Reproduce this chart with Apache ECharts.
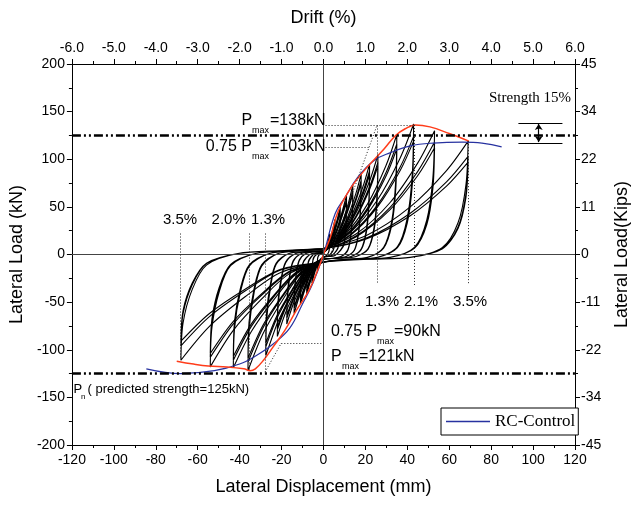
<!DOCTYPE html>
<html>
<head>
<meta charset="utf-8">
<script src="https://cdn.jsdelivr.net/npm/echarts@6/dist/echarts.min.js"></script>
<style>
html, body { margin: 0; padding: 0; background: #fff; }
#chart { width: 639px; height: 505px; }
</style>
</head>
<body>
<div id="chart"></div>
<script>
/* right axis labels (kips) */
var kipsLabels = ['-45', '-34', '-22', '-11', '0', '11', '22', '34', '45'];

/* hysteresis record, one array per drift level (mm, kN) */
var loop03 = [[0,0],[1.5,7.7],[3,22],[2.7,4.4],[1.5,-1],[0,-3],[-1.5,-6],[-3,-17],[-2.7,-3.4],[-1.5,1],[0,2],
    [1.5,7],[3,20],[2.7,4],[1.5,-1],[0,-3],[-1.5,-5.3],[-3,-15],[-2.7,-3],[-1.5,1],[0,2],
    [1.5,6.7],[3,19],[2.7,3.8],[1.5,-1],[0,-3],[-1.5,-4.9],[-3,-14],[-2.7,-2.8],[-1.5,1],[0,2]];
var loop06 = [[0,2],[2.8,13],[5.5,37],[5,7.4],[2.8,-1],[0,-3],[-2.8,-10.5],[-5.5,-30],[-5,-6],[-2.8,1],[0,2],
    [2.8,11.9],[5.5,34],[5,6.8],[2.8,-1],[0,-3],[-2.8,-9.5],[-5.5,-27],[-5,-5.4],[-2.8,1],[0,2],
    [2.8,11.2],[5.5,32],[5,6.4],[2.8,-1],[0,-3],[-2.8,-9.1],[-5.5,-26],[-5,-5.2],[-2.8,1],[0,2]];
var loop08 = [[0,2],[4,17.5],[8,50],[7.2,10],[4,-1],[0,-3],[-4,-14.7],[-8,-42],[-7.2,-8.4],[-4,1],[0,2],
    [4,16.1],[8,46],[7.2,9.2],[4,-1],[0,-3],[-4,-13.3],[-8,-38],[-7.2,-7.6],[-4,1],[0,2],
    [4,15.4],[8,44],[7.2,8.8],[4,-1],[0,-3],[-4,-12.6],[-8,-36],[-7.2,-7.2],[-4,1],[0,2]];
var loop11 = [[0,2],[5.5,21.7],[11,62],[9.9,12.4],[5.5,-1],[0,-3],[-5.5,-18.2],[-11,-52],[-9.9,-10.4],[-5.5,1],[0,2],
    [5.5,20],[11,57],[9.9,11.4],[5.5,-1],[0,-3],[-5.5,-16.8],[-11,-48],[-9.9,-9.6],[-5.5,1],[0,2],
    [5.5,19.3],[11,55],[9.9,11],[5.5,-1],[0,-3],[-5.5,-16.1],[-11,-46],[-9.9,-9.2],[-5.5,1],[0,2]];
var loop14 = [[0,2],[4.2,12.4],[8.4,30.7],[11.9,54],[14,73],[13.8,45.3],[13,20.4],[11.5,4.4],[8.4,-2],[4.2,-4],[0,-5],
    [-4.2,-10.5],[-7.7,-24.8],[-11.2,-42.2],[-14,-62],[-13.8,-40.3],[-12.9,-20.5],[-11.5,-6.2],[-8.4,1],[-4.2,3],[0,4],
    [4.2,11.4],[8.4,28.1],[11.9,49.6],[14,67],[13.8,41.5],[13,18.8],[11.5,4],[8.4,-2],[4.2,-4],[0,-5],
    [-4.2,-9.7],[-7.7,-22.8],[-11.2,-38.8],[-14,-57],[-13.8,-37],[-12.9,-18.8],[-11.5,-5.7],[-8.4,1],[-4.2,3],[0,4],
    [4.2,10.9],[8.4,26.9],[11.9,47.4],[14,64],[13.8,39.7],[13,17.9],[11.5,3.8],[8.4,-2],[4.2,-4],[0,-5],
    [-4.2,-9.4],[-7.7,-22],[-11.2,-37.4],[-14,-55],[-13.8,-35.8],[-12.9,-18.2],[-11.5,-5.5],[-8.4,1],[-4.2,3],[0,4]];
var loop18 = [[0,4],[5.4,14.5],[10.8,35.7],[15.3,62.9],[18,85],[17.7,52.7],[16.7,23.8],[14.8,5.1],[10.8,-2],[5.4,-4],[0,-5],
    [-5.3,-12.4],[-9.6,-29.2],[-14,-49.6],[-17.5,-73],[-17.2,-47.5],[-16.1,-24.1],[-14.4,-7.3],[-10.5,1],[-5.3,3],[0,4],
    [5.4,13.3],[10.8,32.8],[15.3,57.7],[18,78],[17.7,48.4],[16.7,21.8],[14.8,4.7],[10.8,-2],[5.4,-4],[0,-5],
    [-5.3,-11.4],[-9.6,-26.8],[-14,-45.6],[-17.5,-67],[-17.2,-43.6],[-16.1,-22.1],[-14.4,-6.7],[-10.5,1],[-5.3,3],[0,4],
    [5.4,12.8],[10.8,31.5],[15.3,55.5],[18,75],[17.7,46.5],[16.7,21],[14.8,4.5],[10.8,-2],[5.4,-4],[0,-5],
    [-5.3,-10.9],[-9.6,-25.6],[-14,-43.5],[-17.5,-64],[-17.2,-41.6],[-16.1,-21.1],[-14.4,-6.4],[-10.5,1],[-5.3,3],[0,4]];
var loop22 = [[0,4],[6.6,16.2],[13.2,39.9],[18.7,70.3],[22,95],[21.7,58.9],[20.5,26.6],[18,5.7],[13.2,-2],[6.6,-4],[0,-5],
    [-6.6,-14.6],[-12.1,-34.4],[-17.6,-58.5],[-22,-86],[-21.7,-55.9],[-20.2,-28.4],[-18,-8.6],[-13.2,1],[-6.6,3],[0,4],
    [6.6,15],[13.2,37],[18.7,65.1],[22,88],[21.7,54.6],[20.5,24.6],[18,5.3],[13.2,-2],[6.6,-4],[0,-5],
    [-6.6,-13.4],[-12.1,-31.6],[-17.6,-53.7],[-22,-79],[-21.7,-51.4],[-20.2,-26.1],[-18,-7.9],[-13.2,1],[-6.6,3],[0,4],
    [6.6,14.3],[13.2,35.3],[18.7,62.2],[22,84],[21.7,52.1],[20.5,23.5],[18,5],[13.2,-2],[6.6,-4],[0,-5],
    [-6.6,-12.9],[-12.1,-30.4],[-17.6,-51.7],[-22,-76],[-21.7,-49.4],[-20.2,-25.1],[-18,-7.6],[-13.2,1],[-6.6,3],[0,4]];
var loop26 = [[0,4],[7.8,17.9],[15.6,44.1],[22.1,77.7],[26,105],[25.6,65.1],[24.2,29.4],[21.3,6.3],[15.6,-2],[7.8,-4],[0,-5],
    [-8.3,-18],[-15.1,-42.4],[-22,-72.1],[-27.5,-106],[-27.1,-68.9],[-25.3,-35],[-22.6,-10.6],[-16.5,1],[-8.3,3],[0,4],
    [7.8,16.5],[15.6,40.7],[22.1,71.8],[26,97],[25.6,60.1],[24.2,27.2],[21.3,5.8],[15.6,-2],[7.8,-4],[0,-5],
    [-8.3,-16.5],[-15.1,-38.8],[-22,-66],[-27.5,-97],[-27.1,-63.1],[-25.3,-32],[-22.6,-9.7],[-16.5,1],[-8.3,3],[0,4],
    [7.8,15.8],[15.6,39.1],[22.1,68.8],[26,93],[25.6,57.7],[24.2,26],[21.3,5.6],[15.6,-2],[7.8,-4],[0,-5],
    [-8.3,-15.8],[-15.1,-37.2],[-22,-63.2],[-27.5,-93],[-27.1,-60.5],[-25.3,-30.7],[-22.6,-9.3],[-16.5,1],[-8.3,3],[0,4]];
var loop35 = [[0,4],[10.5,21.4],[21,52.9],[29.8,93.2],[35,126],[34.5,78.1],[32.6,35.3],[28.7,7.6],[21,-3],[10.5,-5],[0,-8],
    [-10.8,-20.7],[-19.8,-48.8],[-28.8,-83],[-36,-122],[-35.5,-79.3],[-33.1,-40.3],[-29.5,-12.2],[-21.6,1],[-10.8,4],[0,6],
    [10.5,19.7],[21,48.7],[29.8,85.8],[35,116],[34.5,71.9],[32.6,32.5],[28.7,7],[21,-3],[10.5,-5],[0,-8],
    [-10.8,-19.2],[-19.8,-45.2],[-28.8,-76.8],[-36,-113],[-35.5,-73.5],[-33.1,-37.3],[-29.5,-11.3],[-21.6,1],[-10.8,4],[0,6],
    [10.5,18.9],[21,46.6],[29.8,82.1],[35,111],[34.5,68.8],[32.6,31.1],[28.7,6.7],[21,-3],[10.5,-5],[0,-8],
    [-10.8,-18.5],[-19.8,-43.6],[-28.8,-74.1],[-36,-109],[-35.5,-70.9],[-33.1,-36],[-29.5,-10.9],[-21.6,1],[-10.8,4],[0,6]];
var loop43 = [[0,6],[12.9,23.3],[25.8,57.5],[36.6,101.4],[43,137],[42.4,84.9],[40,38.4],[35.3,8.2],[25.8,-3],[12.9,-5],[0,-8],
    [-12.9,-20.2],[-23.7,-47.6],[-34.4,-80.9],[-43,-119],[-42.4,-77.4],[-39.6,-39.3],[-35.3,-11.9],[-25.8,1],[-12.9,4],[0,6],
    [12.9,21.1],[25.8,52.1],[36.6,91.8],[43,124],[42.4,76.9],[40,34.7],[35.3,7.4],[25.8,-3],[12.9,-5],[0,-8],
    [-12.9,-18.9],[-23.7,-44.4],[-34.4,-75.5],[-43,-111],[-42.4,-72.2],[-39.6,-36.6],[-35.3,-11.1],[-25.8,1],[-12.9,4],[0,6],
    [12.9,20.2],[25.8,50],[36.6,88.1],[43,119],[42.4,73.8],[40,33.3],[35.3,7.1],[25.8,-3],[12.9,-5],[0,-8],
    [-12.9,-18.2],[-23.7,-42.8],[-34.4,-72.8],[-43,-107],[-42.4,-69.6],[-39.6,-35.3],[-35.3,-10.7],[-25.8,1],[-12.9,4],[0,6]];
var loop53 = [[0,6],[15.9,22.1],[31.8,54.6],[45,96.2],[53,130],[52.2,80.6],[49.3,36.4],[43.5,7.8],[31.8,-3],[15.9,-5],[0,-8],
    [-16.2,-20.1],[-29.7,-47.2],[-43.2,-80.2],[-54,-118],[-53.2,-76.7],[-49.7,-38.9],[-44.3,-11.8],[-32.4,1],[-16.2,4],[0,6],
    [15.9,20.1],[31.8,49.6],[45,87.3],[53,118],[52.2,73.2],[49.3,33],[43.5,7.1],[31.8,-3],[15.9,-5],[0,-8],
    [-16.2,-18.4],[-29.7,-43.2],[-43.2,-73.4],[-54,-108],[-53.2,-70.2],[-49.7,-35.6],[-44.3,-10.8],[-32.4,1],[-16.2,4],[0,6],
    [15.9,19],[31.8,47],[45,82.9],[53,112],[52.2,69.4],[49.3,31.4],[43.5,6.7],[31.8,-3],[15.9,-5],[0,-8],
    [-16.2,-17.7],[-29.7,-41.6],[-43.2,-70.7],[-54,-104],[-53.2,-67.6],[-49.7,-34.3],[-44.3,-10.4],[-32.4,1],[-16.2,4],[0,6]];
var loop69 = [[0,6],[20.7,20.2],[41.4,50],[58.7,88.1],[69,119],[68,73.8],[64.2,33.3],[56.6,7.1],[41.4,-3],[20.7,-5],[0,-8],
    [-20.4,-18.9],[-37.4,-44.4],[-54.4,-75.5],[-68,-111],[-67,-72.2],[-62.6,-36.6],[-55.8,-11.1],[-40.8,1],[-20.4,4],[0,6],
    [20.7,17.5],[41.4,43.3],[58.7,76.2],[69,103],[68,63.9],[64.2,28.8],[56.6,6.2],[41.4,-3],[20.7,-5],[0,-8],
    [-20.4,-16.3],[-37.4,-38.4],[-54.4,-65.3],[-68,-96],[-67,-62.4],[-62.6,-31.7],[-55.8,-9.6],[-40.8,1],[-20.4,4],[0,6],
    [20.7,16.5],[41.4,40.7],[58.7,71.8],[69,97],[68,60.1],[64.2,27.2],[56.6,5.8],[41.4,-3],[20.7,-5],[0,-8],
    [-20.4,-15.5],[-37.4,-36.4],[-54.4,-61.9],[-68,-91],[-67,-59.2],[-62.6,-30],[-55.8,-9.1],[-40.8,1],[-20.4,4],[0,6]];

/* envelope (red) and RC-Control backbone (blue) */
var envelope = [[-70,-112],[-62,-115],[-55,-117],[-46,-118],[-38,-120],[-35,-122],[-32.5,-120],[-28.6,-111],[-24,-97],
    [-18.5,-80],[-13,-59],[-7,-38],[-2.3,-14],[0,0],[3.3,18],[7.1,46],[13.4,71],[21,92],[29,111],[34.4,125],
    [39,132],[43.7,136],[50.8,134],[60,127],[69.4,119]];
var rcControl = [[-84.5,-120],[-68,-125],[-52,-122],[-40,-115],[-32,-106],[-24,-94],[-16,-77],[-10,-52],[-5,-30],
    [0,0],[5.6,43],[10.3,60],[16.3,81],[24.3,99],[32,107],[41.4,114],[52.3,117],[66.3,118],[75.6,117],[85,113]];

/* reference levels */
var predictedStrength = [125, -125];
var strengthBand = [138, 117];
var guideSegments = [
    [[1, 135.4], [43.3, 135.4]],
    [[1, 112.6], [21.8, 112.6]],
    [[3.3, 0], [25.5, 135.4]],
    [[25.5, 135.4], [25.5, -31]],
    [[43.3, 136], [43.3, -33]],
    [[69, 119], [69, -32]],
    [[-68.3, 22], [-68.3, -109]],
    [[-35.6, 22], [-35.6, -122]],
    [[-27.9, 22], [-27.9, -123.5]],
    [[-20.1, -93], [0, -93]],
    [[-27.9, -123.5], [-20.1, -93]]
];

var sans = '"Liberation Sans", Arial, sans-serif';
var serif = '"Liberation Serif", "Times New Roman", serif';

function txt(text, x, y, size, align, family) {
    return {
        type: 'text', x: x, y: y, silent: true, z: 20,
        style: {
            text: text, fill: '#000', font: size + 'px ' + (family || sans),
            align: align || 'left', verticalAlign: 'middle',
            textAlign: align || 'left', textVerticalAlign: 'middle'
        }
    };
}

function seg(list) {
    return list.map(function (s) { return [{coord: s[0]}, {coord: s[1]}]; });
}

var loopSeries = [loop03, loop06, loop08, loop11, loop14, loop18, loop22, loop26, loop35, loop43, loop53, loop69].map(function (d) {
    return {
        type: 'line', data: d, symbol: 'none', smooth: 0.3, silent: true, z: 2,
        lineStyle: {color: '#000', width: 1.1}
    };
});

var axisCommon = {
    axisLine: {onZero: false, lineStyle: {color: '#000', width: 1}},
    axisTick: {length: 5, lineStyle: {color: '#000'}},
    minorTick: {show: true, splitNumber: 2, length: 3, lineStyle: {color: '#000'}},
    splitLine: {show: false},
    nameLocation: 'middle',
    nameTextStyle: {fontSize: 18, color: '#000', fontFamily: sans}
};

function axis(extra, label) {
    var a = Object.assign({}, axisCommon, extra);
    a.axisLabel = Object.assign({fontSize: 14, color: '#000', fontFamily: sans}, label);
    return a;
}

var option = {
    animation: false,
    backgroundColor: '#fff',
    grid: {left: 71, right: 54, top: 64, bottom: 60},
    legend: {
        data: ['RC-Control'], left: 441, top: 408,
        icon: 'rect', itemWidth: 44, itemHeight: 1.5,
        backgroundColor: '#fff', borderColor: '#000', borderWidth: 1,
        padding: [5, 3, 5, 5],
        textStyle: {fontFamily: serif, fontSize: 17, color: '#000'}
    },
    xAxis: [
        axis({type: 'value', position: 'bottom', min: -120, max: 120, interval: 20,
            name: 'Lateral Displacement (mm)', nameGap: 33}, {margin: 8}),
        axis({type: 'value', position: 'top', min: -6, max: 6, interval: 1,
            name: 'Drift (%)', nameGap: 37}, {margin: 9, formatter: function (v) { return v.toFixed(1); }})
    ],
    yAxis: [
        axis({type: 'value', position: 'left', min: -200, max: 200, interval: 50,
            name: 'Lateral Load (kN)', nameGap: 45}, {margin: 7}),
        axis({type: 'value', position: 'right', min: -200, max: 200, interval: 50,
            name: 'Lateral Load(Kips)', nameGap: 38, nameRotate: 90},
            {margin: 6, formatter: function (v) { return kipsLabels[Math.round((v + 200) / 50)]; }})
    ],
    series: loopSeries.concat([
        {
            type: 'line', data: [], silent: true, z: 1,
            markLine: {
                silent: true, symbol: ['none', 'none'], label: {show: false},
                lineStyle: {color: '#444', width: 1, type: 'solid'},
                data: [{xAxis: 0}, {yAxis: 0}]
            }
        },
        {
            type: 'line', data: [], silent: true, z: 5,
            markLine: {
                silent: true, symbol: ['none', 'none'], label: {show: false},
                lineStyle: {color: '#000', width: 2.5, type: [9, 3, 2, 3, 2, 3]},
                data: predictedStrength.map(function (v) { return {yAxis: v}; })
            }
        },
        {
            type: 'line', data: [], silent: true, z: 5,
            markLine: {
                silent: true, symbol: ['none', 'none'], label: {show: false},
                lineStyle: {color: '#222', width: 1, type: [1, 2]},
                data: seg(guideSegments)
            }
        },
        {
            type: 'line', data: [], silent: true, z: 5,
            markLine: {
                silent: true, symbol: ['none', 'none'], label: {show: false},
                lineStyle: {color: '#000', width: 1.2, type: 'solid'},
                data: seg([[[93, strengthBand[0]], [114, strengthBand[0]]], [[93, strengthBand[1]], [114, strengthBand[1]]]])
            }
        },
        {
            type: 'line', data: [], silent: true, z: 5,
            markLine: {
                silent: true, symbol: ['arrow', 'arrow'], symbolSize: 6, label: {show: false},
                lineStyle: {color: '#000', width: 1.2, type: 'solid'},
                data: seg([[[102.7, strengthBand[0] - 1], [102.7, strengthBand[1] + 1]]])
            }
        },
        {
            name: 'RC-Control', type: 'line', data: rcControl, symbol: 'none', smooth: 0.4, z: 3,
            lineStyle: {color: '#2732a0', width: 1.2}, itemStyle: {color: '#2732a0'}
        },
        {
            type: 'line', data: envelope, symbol: 'none', smooth: 0.4, z: 4, silent: true,
            lineStyle: {color: '#ff3c1a', width: 1.5}
        }
    ]),
    graphic: [
        txt('P', 241.5, 121, 16), txt('max', 252, 131, 9), txt('=138kN', 270, 121, 16),
        txt('0.75 P', 252, 147, 16, 'right'), txt('max', 252, 157, 9), txt('=103kN', 270, 147, 16),
        txt('0.75 P', 331, 332, 16), txt('max', 377, 342, 9), txt('=90kN', 394, 332, 16),
        txt('P', 331, 357, 16), txt('max', 342, 367, 9), txt('=121kN', 359, 357, 16),
        txt('P', 73.5, 389, 13), txt('n', 81, 397, 8), txt('( predicted strength=125kN)', 87.6, 389, 13),
        txt('3.5%', 180, 220, 15, 'center'), txt('2.0%', 228.7, 220, 15, 'center'), txt('1.3%', 268, 220, 15, 'center'),
        txt('1.3%', 382, 302, 15, 'center'), txt('2.1%', 421, 302, 15, 'center'), txt('3.5%', 470, 302, 15, 'center'),
        txt('Strength 15%', 489, 98, 15, 'left', serif)
    ]
};

var chart = echarts.init(document.getElementById('chart'));
chart.setOption(option);
</script>
</body>
</html>
